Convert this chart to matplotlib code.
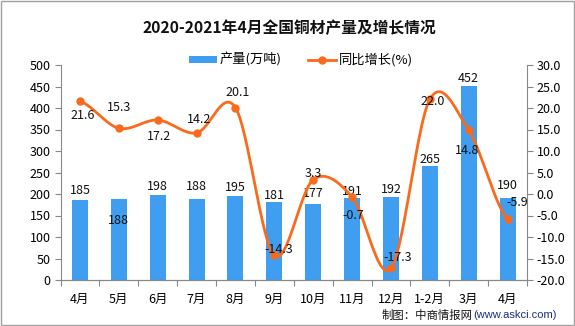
import numpy as np
import matplotlib
matplotlib.use("Agg")
import matplotlib.pyplot as plt
from matplotlib.patches import Rectangle, Patch
from matplotlib.lines import Line2D
from matplotlib.ticker import FixedLocator, NullFormatter, FuncFormatter

plt.rcParams['font.family'] = ['Noto Sans CJK SC', 'DejaVu Sans']

categories = ["4月", "5月", "6月", "7月", "8月", "9月", "10月", "11月", "12月", "1-2月", "3月", "4月"]
output = [185, 188, 198, 188, 195, 181, 177, 191, 192, 265, 452, 190]
growth = [21.6, 15.3, 17.2, 14.2, 20.1, -14.3, 3.3, -0.7, -17.3, 22.0, 14.8, -5.9]

# label offsets in pixels (dx, dy), as placed in the reference
bar_label_off = [(0, 10), (0, -21), (0, 8), (0, 13), (0, 9), (0, 7),
                 (0, 10), (0, 6), (0, 8), (0, 7), (0, 7), (0, 13)]
line_label_off = [(3, -14), (0, 21), (1, -16), (3, 13), (2, 15), (4, 6),
                  (0, 6), (1, -18), (7, 11), (3, -2), (-2, -20), (10, 17)]

BAR_C = '#3F9EF0'
LINE_C = '#FA6A1C'

fig = plt.figure(figsize=(5.75, 3.26), dpi=100)
fig.patches.append(Rectangle((0.001, 0.002), 0.997, 0.995, transform=fig.transFigure,
                             fill=False, edgecolor='#a0a0a0', lw=1.0))

ax = fig.add_axes([60.5 / 575, 46 / 326, 466.5 / 575, 215 / 326])
ax2 = ax.twinx()

x = np.arange(len(categories))
ax.bar(x, output, width=0.41, color=BAR_C, zorder=2)
ax.set_xlim(-0.5, len(categories) - 0.5)
ax.set_ylim(0, 500)
ax.set_yticks(np.arange(0, 501, 50))
ax2.set_ylim(-20, 30)
ax2.set_yticks(np.arange(-20, 30.1, 5))
ax2.yaxis.set_major_formatter(FuncFormatter(lambda v, p: f"{v:.1f}"))

# x ticks at category boundaries, labels at centres
ax.xaxis.set_major_locator(FixedLocator(np.arange(-0.5, len(categories), 1)))
ax.xaxis.set_major_formatter(NullFormatter())
ax.set_xticks(x, minor=True)
ax.set_xticklabels(categories, minor=True)
ax.tick_params(axis='x', which='minor', length=0, pad=9, labelsize=9)
ax.tick_params(axis='x', which='major', length=4, color='#888888', direction='out')
ax.tick_params(axis='y', length=4, color='#888888', labelsize=9, pad=3)
ax2.tick_params(axis='y', length=4, color='#888888', labelsize=9, pad=3)

for a in (ax, ax2):
    a.spines['top'].set_visible(False)
    for s in ('left', 'right', 'bottom'):
        a.spines[s].set_color('#888888')
ax.spines['right'].set_visible(False)
ax2.spines['left'].set_visible(False)

# smooth (Catmull-Rom) curve through the growth points
g = np.asarray(growth, dtype=float)
n = len(g)
tang = np.zeros(n)
tang[1:-1] = (g[2:] - g[:-2]) / 2
tang[0] = (g[1] - g[0]) / 2
tang[-1] = (g[-1] - g[-2]) / 2
xs, ys = [], []
t = np.linspace(0, 1, 30)
h00 = 2 * t**3 - 3 * t**2 + 1
h10 = t**3 - 2 * t**2 + t
h01 = -2 * t**3 + 3 * t**2
h11 = t**3 - t**2
for i in range(n - 1):
    xs.append(x[i] + t)
    ys.append(h00 * g[i] + h10 * tang[i] + h01 * g[i + 1] + h11 * tang[i + 1])
xs = np.concatenate(xs)
ys = np.concatenate(ys)
ax2.plot(xs, ys, color=LINE_C, lw=2.0, zorder=3, solid_capstyle='round')
ax2.plot(x, g, 'o', color=LINE_C, markersize=5, zorder=4)

for i, v in enumerate(output):
    dx, dy = bar_label_off[i]
    ax.annotate(str(v), (x[i], v), xytext=(dx, dy), textcoords='offset pixels',
                ha='center', va='center', fontsize=9, color='#111111', zorder=5)
for i, v in enumerate(growth):
    dx, dy = line_label_off[i]
    ax2.annotate(f"{v:.1f}", (x[i], v), xytext=(dx, dy), textcoords='offset pixels',
                 ha='center', va='center', fontsize=9, color='#111111', zorder=5)

fig.text(289 / 575, 1 - 28 / 326, "2020-2021年4月全国铜材产量及增长情况", ha='center', va='center',
         fontsize=11.3, fontweight='bold', color='#111111')

handles = [Patch(facecolor=BAR_C, edgecolor='none'),
           Line2D([0], [0], color=LINE_C, lw=2.0, marker='o', markersize=5)]
fig.legend(handles, ["产量(万吨)", "同比增长(%)"], loc='center', ncol=2,
           bbox_to_anchor=(301 / 575, 1 - 60 / 326), frameon=False, fontsize=9.5,
           handlelength=2.1, handleheight=0.45, columnspacing=2.0, handletextpad=0.2)

fig.text(473 / 575, 1 - 315 / 326, "制图：中商情报网", ha='right', va='center',
         fontsize=8.2, color='#111111')
fig.text(473 / 575, 1 - 315 / 326, "(www.askci.com)", ha='left', va='center',
         fontsize=8, color='#1a2f80', family=['Liberation Sans', 'DejaVu Sans'])

fig.savefig("out.png", dpi=100)
